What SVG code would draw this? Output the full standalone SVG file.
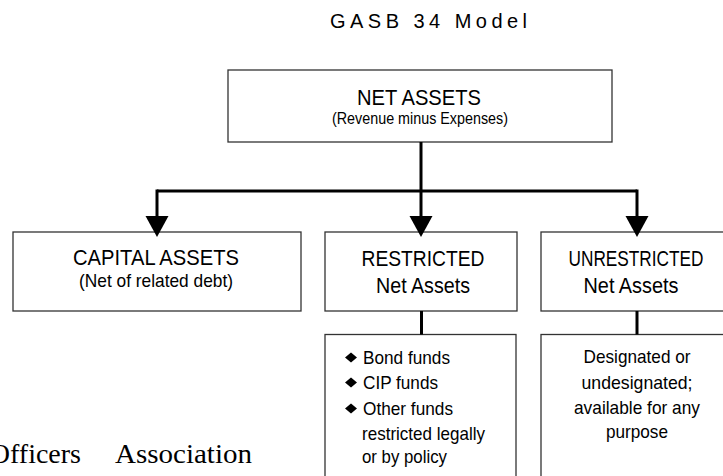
<svg xmlns="http://www.w3.org/2000/svg" width="723" height="476" viewBox="0 0 723 476">
<style>
.box{fill:#fff;stroke:#333;stroke-width:1.3}
.t{font-family:"Liberation Sans",Arial,sans-serif;fill:#000}
.big{font-size:22px}
.mid{font-size:19px}
.c{text-anchor:middle}
.conn{fill:none;stroke:#000;stroke-width:3}
.ser{font-family:"Liberation Serif","Times New Roman",serif;font-size:28px;fill:#000}
.dia{fill:#000}
</style>
<defs>
<marker id="ah" markerUnits="userSpaceOnUse" markerWidth="22" markerHeight="24" refX="0" refY="11.5" orient="auto" viewBox="0 0 22 23">
<path d="M0,0 L21,11.5 L0,23 Z" fill="#000"/>
</marker>
</defs>
<text class="t c" x="428.5" y="28.3" font-size="20" textLength="197" lengthAdjust="spacing">GASB 34 Model</text>
<g id="net-assets">
<rect class="box" x="228" y="70" width="384" height="72"/>
<text class="t big c" x="419" y="104.5" textLength="124" lengthAdjust="spacingAndGlyphs">NET ASSETS</text>
<text class="t c" font-size="17" x="420" y="124" textLength="176" lengthAdjust="spacingAndGlyphs">(Revenue minus Expenses)</text>
</g>
<g id="capital-assets">
<rect class="box" x="13" y="232" width="288" height="79"/>
<text class="t big c" x="156" y="265" textLength="166" lengthAdjust="spacingAndGlyphs">CAPITAL ASSETS</text>
<text class="t mid c" x="156" y="287" textLength="154" lengthAdjust="spacingAndGlyphs">(Net of related debt)</text>
</g>
<g id="restricted">
<rect class="box" x="325" y="232" width="192" height="79"/>
<text class="t big c" x="423" y="265.5" textLength="123" lengthAdjust="spacingAndGlyphs">RESTRICTED</text>
<text class="t big c" x="423" y="292.5" textLength="94" lengthAdjust="spacingAndGlyphs">Net Assets</text>
</g>
<g id="unrestricted">
<rect class="box" x="541" y="232" width="190" height="79"/>
<text class="t big c" x="636" y="265.5" textLength="135" lengthAdjust="spacingAndGlyphs">UNRESTRICTED</text>
<text class="t big c" x="631" y="292.5" textLength="95" lengthAdjust="spacingAndGlyphs">Net Assets</text>
</g>
<g id="restricted-list">
<rect class="box" x="325" y="334.5" width="191" height="160"/>
<polygon class="dia" points="351,352.5 357,357.5 351,362.5 345,357.5"/>
<polygon class="dia" points="351,377.5 357,382.5 351,387.5 345,382.5"/>
<polygon class="dia" points="351,403.5 357,408.5 351,413.5 345,408.5"/>
<text class="t mid" x="363" y="363.5" textLength="87" lengthAdjust="spacingAndGlyphs">Bond funds</text>
<text class="t mid" x="363" y="388.5" textLength="75" lengthAdjust="spacingAndGlyphs">CIP funds</text>
<text class="t mid" x="363" y="414.5" textLength="90" lengthAdjust="spacingAndGlyphs">Other funds</text>
<text class="t mid" x="362" y="439.5" textLength="123" lengthAdjust="spacingAndGlyphs">restricted legally</text>
<text class="t mid" x="362" y="463" textLength="85" lengthAdjust="spacingAndGlyphs">or by policy</text>
</g>
<g id="unrestricted-desc">
<rect class="box" x="541" y="334.5" width="190" height="160"/>
<text class="t mid c" x="637" y="363" textLength="107" lengthAdjust="spacingAndGlyphs">Designated or</text>
<text class="t mid c" x="637" y="389" textLength="111" lengthAdjust="spacingAndGlyphs">undesignated;</text>
<text class="t mid c" x="637" y="414" textLength="126" lengthAdjust="spacingAndGlyphs">available for any</text>
<text class="t mid c" x="637" y="438" textLength="62" lengthAdjust="spacingAndGlyphs">purpose</text>
</g>
<g id="connectors">
<path class="conn" d="M157,191 H637"/>
<path class="conn" d="M421,142 V216" marker-end="url(#ah)"/>
<path class="conn" d="M157,189.5 V216" marker-end="url(#ah)"/>
<path class="conn" d="M637,189.5 V216" marker-end="url(#ah)"/>
<path class="conn" d="M421.5,311 V334.5"/>
<path class="conn" d="M637,311 V334.5"/>
</g>
<text class="ser" x="81" y="463" text-anchor="end">Officers</text>
<text class="ser" x="115" y="463" textLength="137" lengthAdjust="spacingAndGlyphs">Association</text>
</svg>
